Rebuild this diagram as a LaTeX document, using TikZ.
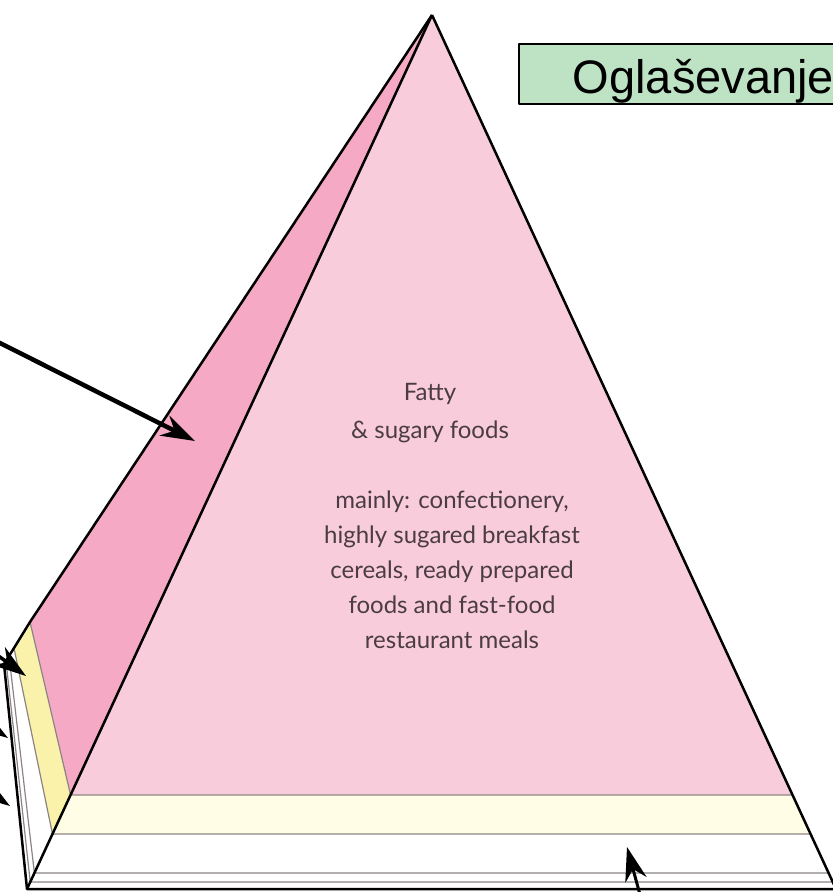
\documentclass[tikz,border=0pt]{standalone}
\usepackage{fontspec}
\setmainfont{Lato}
\newfontfamily\adfont{Liberation Sans}
\usetikzlibrary{arrows.meta,calc}
\definecolor{PinkFront}{HTML}{F8CCDB}
\definecolor{PinkSide}{HTML}{F5A9C4}
\definecolor{YellowFront}{HTML}{FFFDE5}
\definecolor{YellowSide}{HTML}{FAF2AA}
\definecolor{AdGreen}{HTML}{BEE3C4}
\definecolor{Label}{HTML}{4B3C43}
\definecolor{Band}{HTML}{8C8484}

\begin{document}
\begin{tikzpicture}[x=1pt, y=-1pt, line join=round,
  edge/.style={line width=2.5pt, black},
  band/.style={line width=1.2pt, Band},
  arr/.style={-{Stealth[length=34pt,width=22pt]}, line width=4.5pt},
  lbl/.style={font=\fontsize{24}{35}\selectfont, text=Label, align=center},
  adbox/.style={draw, line width=1.5pt, fill=AdGreen, anchor=west, font=\adfont\fontsize{47}{50}\selectfont,
    text width=280pt, align=left, inner xsep=54pt, inner ysep=1pt, text height=48pt, text depth=10pt, minimum height=60pt}]
  \useasboundingbox (0,0) rectangle (833,892);
  \clip (0,0) rectangle (833,892);
  % corners of the pyramid
  \coordinate (apex) at (432,15);
  \coordinate (bl) at (27,889);
  \coordinate (br) at (836,889);
  \coordinate (s1) at (30,622);
  \coordinate (s2) at (14,648);
  \coordinate (s3) at (4,664);
  % band edges on the front face
  \coordinate (f1) at ($(apex)!0.8924!(bl)$); \coordinate (r1) at ($(apex)!0.8924!(br)$);
  \coordinate (f2) at ($(apex)!0.9371!(bl)$); \coordinate (r2) at ($(apex)!0.9371!(br)$);
  \coordinate (f3) at ($(apex)!0.9817!(bl)$); \coordinate (r3) at ($(apex)!0.9817!(br)$);
  \coordinate (f4) at ($(apex)!0.9920!(bl)$); \coordinate (r4) at ($(apex)!0.9920!(br)$);

  \fill[PinkFront] (apex) -- (f1) -- (r1) -- cycle;
  \fill[YellowFront] (f1) -- (f2) -- (r2) -- (r1) -- cycle;
  \fill[PinkSide] (apex) -- (s1) -- (f1) -- cycle;
  \fill[YellowSide] (s1) -- (s2) -- (f2) -- (f1) -- cycle;
  \draw[band] (s1) -- (f1) -- (r1); \draw[band] (s2) -- (f2) -- (r2);
  \draw[band] (9,656) -- (f3) -- (r3); \draw[band] (6,661) -- (f4) -- (r4);
  \draw[edge] (apex) -- (bl); \draw[edge] (apex) -- (br);
  \draw[edge] (apex) -- (s1) -- (s2) -- (s3) -- (bl) -- (br);

  \node[lbl, font=\fontsize{24}{38}\selectfont] (fatty) at (430,413) {Fatty\\\& sugary foods};
  \node[lbl] (mainly) at (452,570) {mainly: confectionery,\\highly sugared breakfast\\cereals, ready prepared\\foods and fast-food\\restaurant meals};
  \node[adbox] (ad) at (518,74) {Oglaševanje};

  % pointers
  \coordinate (p0) at (-10,338); \coordinate (t0) at (195,441);
  \coordinate (p1) at (-40,628); \coordinate (t1) at (26,676);
  \coordinate (p2) at (-40,706); \coordinate (t2) at (8,738);
  \coordinate (p3) at (-40,772); \coordinate (t3) at (10,806);
  \coordinate (p4) at (642,902); \coordinate (t4) at (627,847);
  \draw[arr] (p0) -- (t0); \draw[arr, line width=3.5pt] (p1) -- (t1);
  \draw[arr, line width=3.5pt] (p2) -- (t2); \draw[arr, line width=3.5pt] (p3) -- (t3);
  \draw[arr, line width=3pt] (p4) -- (t4);
\end{tikzpicture}
\end{document}
